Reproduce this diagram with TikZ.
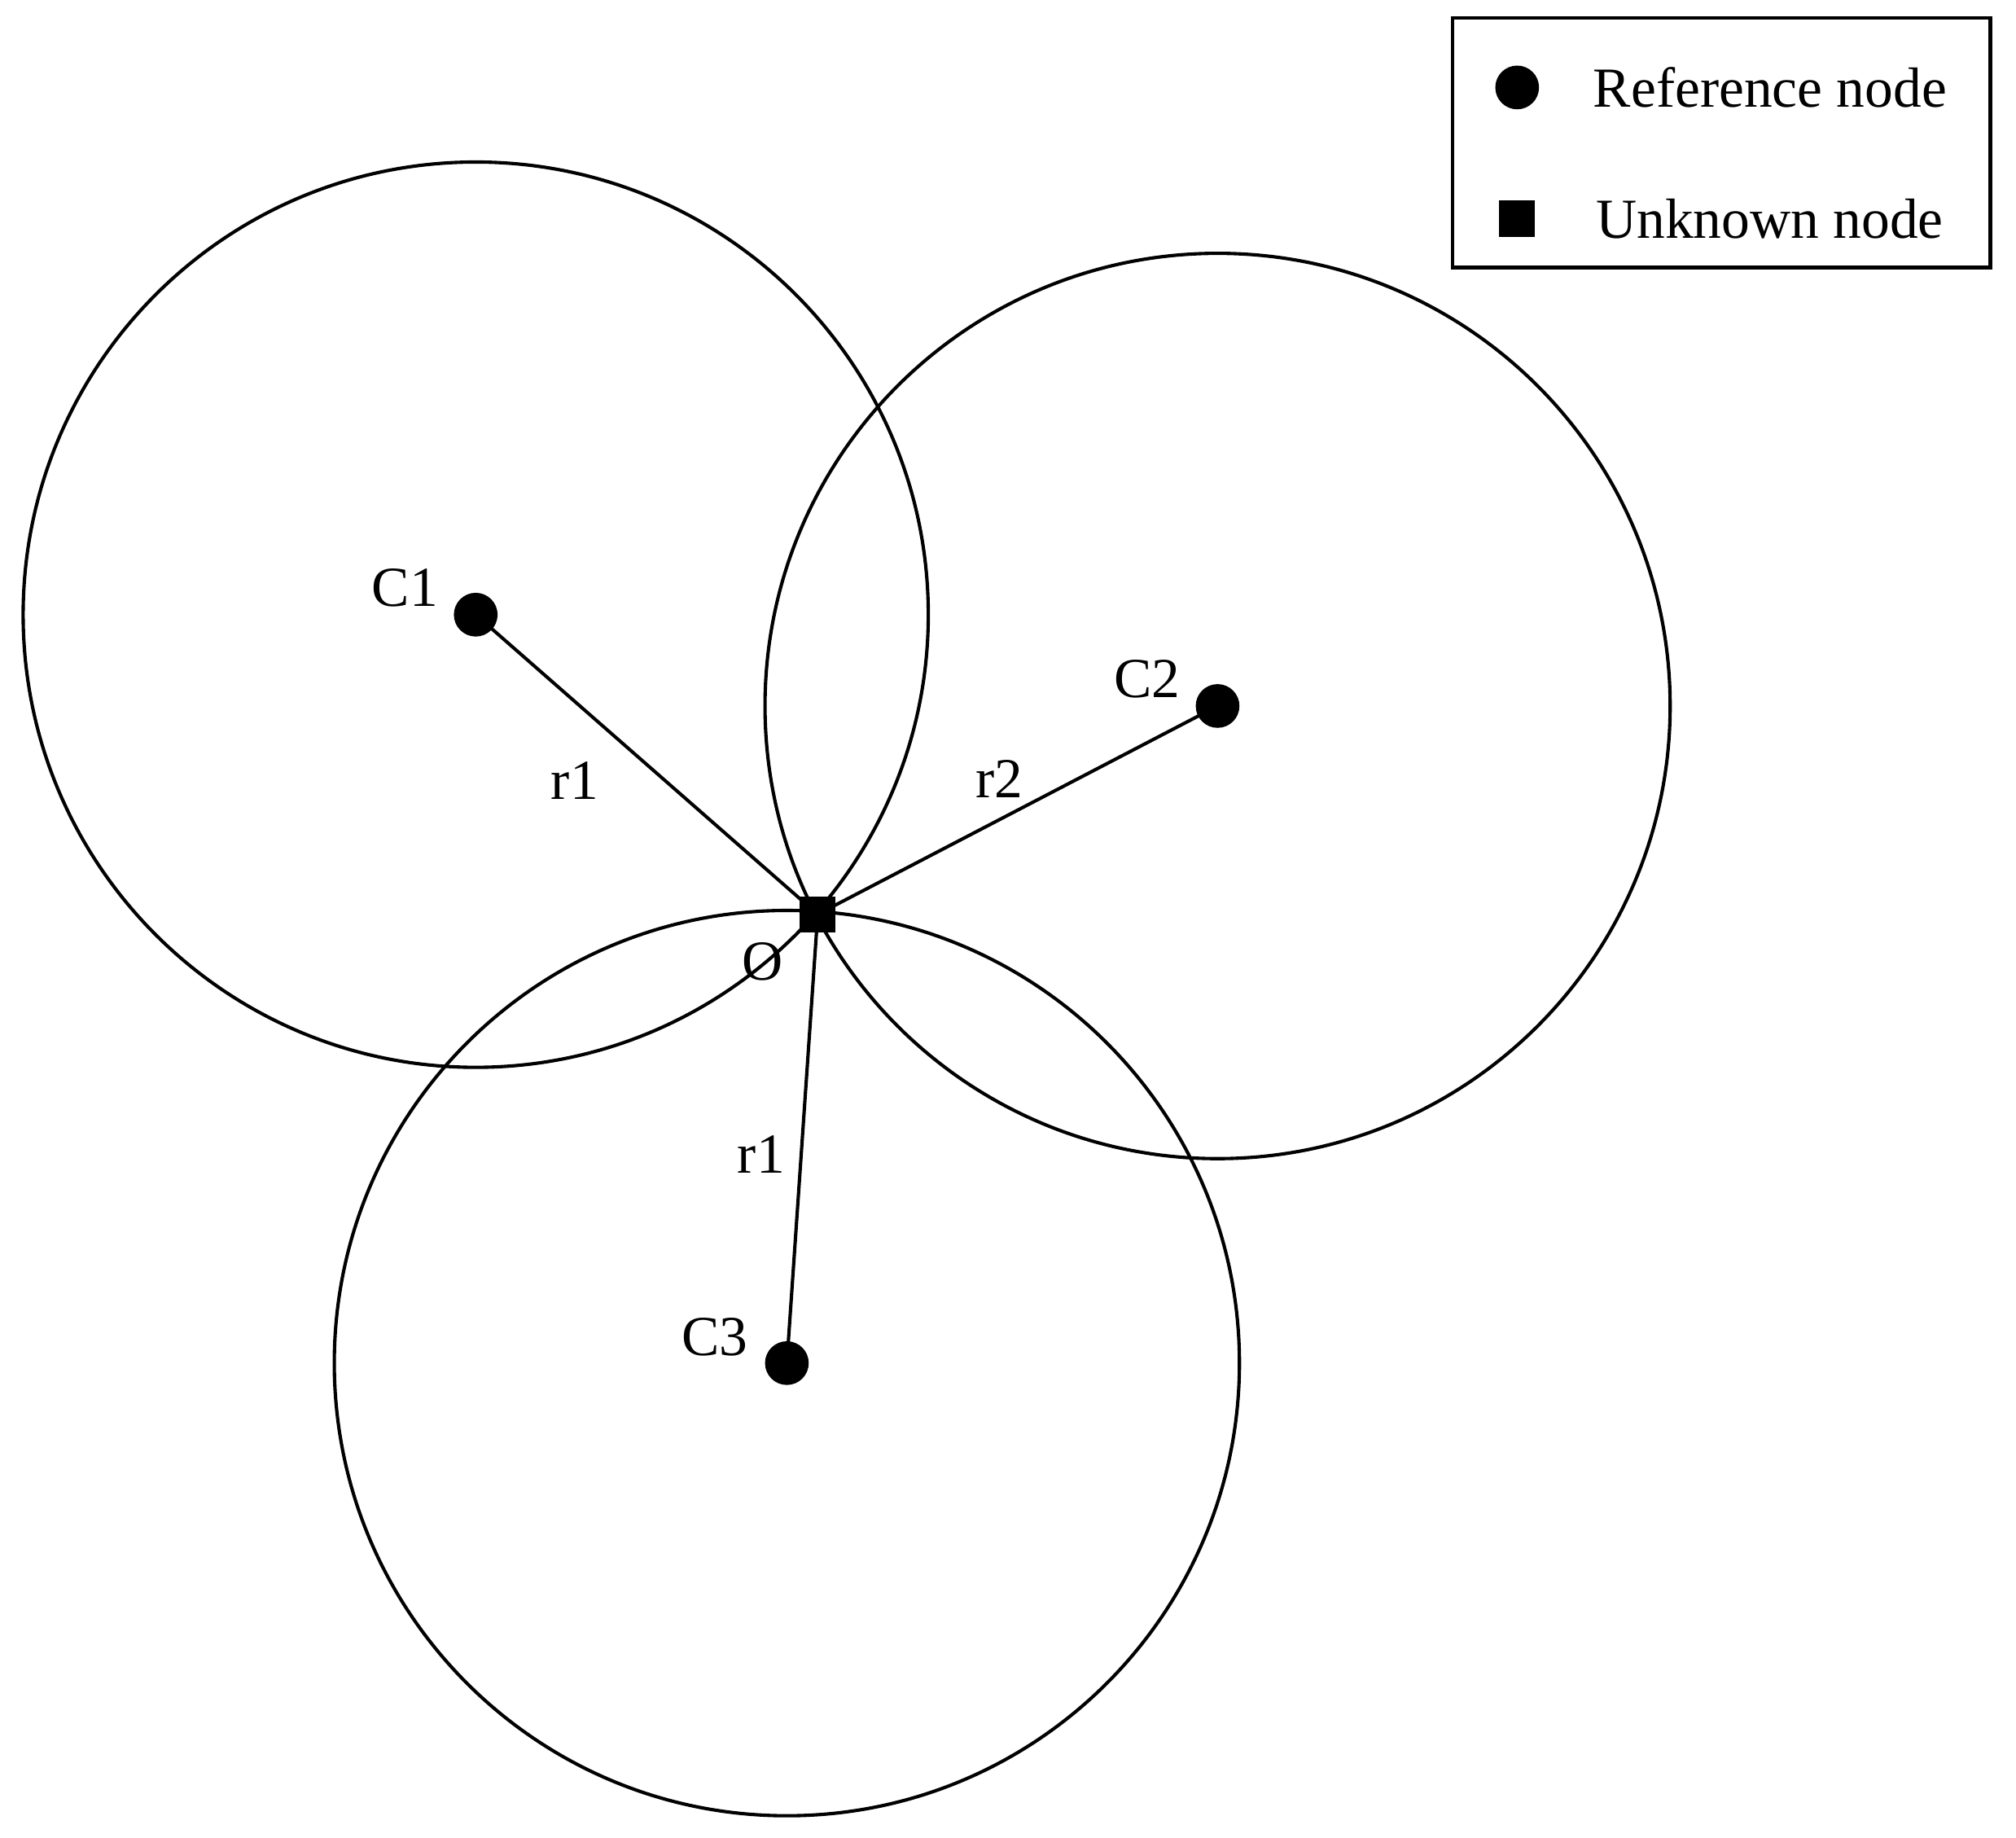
\documentclass[tikz,border=0pt]{standalone}
\usepackage{fontspec}
\setmainfont{Liberation Serif}
\begin{document}
\begin{tikzpicture}[x=1pt,y=-1pt,line width=2.6pt,
  dot/.style={circle,fill=black,inner sep=0pt,minimum size=34pt},
  sq/.style={rectangle,fill=black,inner sep=0pt,minimum size=28pt},
  lab/.style={font=\fontsize{44}{48}\selectfont,inner sep=0pt}]
\useasboundingbox (0,0) rectangle (1568,1429);
\draw (370,478) circle (352);
\draw (947,549) circle (352);
\draw (612,1060) circle (352);
\node[dot] (c1) at (370,478) {};
\node[dot] (c2) at (947,549) {};
\node[dot] (c3) at (612,1060) {};
\node[sq] (o) at (636,711) {};
\draw (c1.center) -- (o.center);
\draw (c2.center) -- (o.center);
\draw (c3.center) -- (o.center);
\node[lab] (l1) at (315,457) {C1};
\node[lab] (l2) at (892,528) {C2};
\node[lab] (l3) at (556,1040) {C3};
\node[lab] (lo) at (593,748) {O};
\node[lab] (r1a) at (447,607) {r1};
\node[lab] (r2) at (777,606) {r2};
\node[lab] (r1b) at (592,898) {r1};
\draw (1130,14) rectangle (1548,208);
\node[dot] (ld) at (1180,68) {};
\node[sq] (ls) at (1180,170) {};
\node[lab,anchor=west] (t1) at (1238,68) {Reference node};
\node[lab,anchor=west] (t2) at (1240,170) {Unknown node};
\end{tikzpicture}
\end{document}
